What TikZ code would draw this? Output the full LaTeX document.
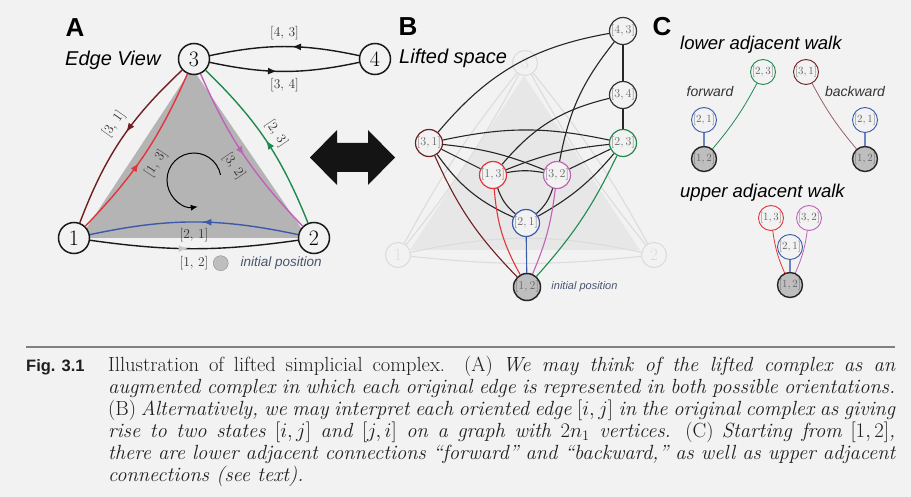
\documentclass[tikz,border=0pt]{standalone}
\usepackage{fontspec}
\setsansfont{Liberation Sans}
\usepackage{tikz}
\usetikzlibrary{positioning,arrows.meta,decorations.markings}

\definecolor{bgc}{HTML}{F2F2F2}
\definecolor{maroon}{HTML}{6E1F22}
\definecolor{redE}{HTML}{E2363C}
\definecolor{purp}{HTML}{C062B8}
\definecolor{grn}{HTML}{1E8A4E}
\definecolor{blu}{HTML}{3B5BAA}
\definecolor{trigray}{HTML}{B4B4B4}
\definecolor{initgray}{HTML}{BEBEBE}
\definecolor{postxt}{HTML}{4A5470}
\definecolor{faint}{HTML}{DCDCDC}
\definecolor{faintfill}{HTML}{E7E7E7}

\begin{document}
\begin{tikzpicture}[
  x=1pt, y=1pt,
  panel/.style={font=\sffamily\bfseries\fontsize{26}{26}\selectfont, inner sep=0pt},
  ptitle/.style={font=\sffamily\itshape\fontsize{20}{20}\selectfont, inner sep=0pt, anchor=west},
  vtx/.style={circle, draw=black!90, line width=1.5pt, fill=bgc, minimum size=31pt, inner sep=0pt, font=\fontsize{22}{22}\selectfont},
  fvtx/.style={circle, draw=faint, line width=1.1pt, minimum size=25pt, inner sep=0pt, text=faint, font=\fontsize{17}{17}\selectfont},
  elab/.style={font=\fontsize{13.5}{14}\selectfont, text=black!80, inner sep=1pt},
  edgeA/.style={line width=1.4pt},
  midarr/.style={postaction={decorate}, decoration={markings, mark=at position #1 with {\arrow{Latex[length=9pt,width=7pt]}}}},
  midarrg/.style={postaction={decorate}, decoration={markings, mark=at position #1 with {\arrow{Latex[length=9pt,width=7pt,color=black!22]}}}},
  lv/.style={circle, draw=#1, line width=1.2pt, fill=bgc, minimum size=27pt, inner sep=0pt, text=black!60, font=\fontsize{12}{12}\selectfont},
  bedge/.style={line width=1.1pt, black!85},
  cedge/.style={line width=1.1pt},
  fline/.style={line width=1.1pt, faint},
  cv/.style={circle, draw=#1, line width=0.9pt, fill=bgc, minimum size=25pt, inner sep=0pt, text=black!60, font=\fontsize{11}{11}\selectfont},
  cvo/.style={cv=black!85, fill=initgray, line width=1.4pt},
  cl/.style={line width=0.8pt},
  walklab/.style={font=\sffamily\itshape\fontsize{14}{14}\selectfont, text=black!80, inner sep=0pt},
  inittxt/.style={font=\sffamily\itshape\fontsize{13.5}{14}\selectfont, text=postxt, inner sep=0pt},
  captxt/.style={text width=787pt, align=justify, inner sep=0pt, font=\fontsize{20.5}{22}\selectfont, text=black!88},
  figlab/.style={font=\sffamily\bfseries\fontsize{16.5}{17}\selectfont, inner sep=0pt, text=black!88}]
\fill[bgc] (0,0) rectangle (911,-497);
\useasboundingbox (0,0) rectangle (911,-497);

% A: edge view
\fill[trigray] (192,-68) -- (80,-238) -- (308,-238) -- cycle;
\node[panel] (labA) at (75,-28) {A};
\node[ptitle] (tA) at (65,-60) {Edge View};
\node[vtx] (v3) at (194,-59) {3};
\node[vtx] (v4) at (375,-59) {4};
\node[vtx] (v1) at (74,-238) {1};
\node[vtx] (v2) at (314,-238) {2};
\draw[edgeA, maroon, midarr=0.45] (v3) to[bend right=13] node[elab, pos=0.45, sloped, above=6pt] {[3, 1]} (v1);
\draw[edgeA, redE, midarr=0.45] (v1) to[bend right=10] node[elab, pos=0.5, sloped, below=6pt] {[1, 3]} (v3);
\draw[edgeA, purp, midarr=0.5] (v3) to[bend right=10] node[elab, pos=0.52, sloped, below=6pt] {[3, 2]} (v2);
\draw[edgeA, grn, midarr=0.5] (v2) to[bend right=12] node[elab, pos=0.5, sloped, above=4pt] {[2, 3]} (v3);
\draw[edgeA, blu, midarr=0.46] (v2) to[bend right=12] node[elab, below=5pt] {[2, 1]} (v1);
\draw[edgeA, black!90, midarrg=0.47] (v1) to[bend right=8] node[elab, below=6pt] (l12) {[1, 2]} (v2);
\draw[edgeA, black!90, midarr=0.45] (v4) to[bend right=12] node[elab, above=5pt] {[4, 3]} (v3);
\draw[edgeA, black!90, midarr=0.45] (v3) to[bend right=12] node[elab, below=5pt] {[3, 4]} (v4);
\node[circle, draw=black!45, fill=initgray, minimum size=15pt, inner sep=0pt, right=3pt of l12] (dot) {};
\node[inittxt, right=12pt of dot] (initA) {initial position};
\draw[line width=1pt, -{Latex[length=7pt,width=6pt]}] (194,-180) ++(11:27) arc[start angle=11, end angle=278, radius=27];

% double arrow
\fill[black!92] (310,-157.5) -- (337,-130) -- (337,-143) -- (368,-143) -- (368,-130) -- (395,-157.5)
  -- (368,-185) -- (368,-172) -- (337,-172) -- (337,-185) -- cycle;

% B: lifted space
\fill[faintfill] (524,-76) -- (410,-250) -- (640,-250) -- cycle;
\node[panel] (labB) at (408,-27) {B};
\node[fvtx] (f3) at (525,-63) {3};
\node[fvtx] (f1) at (398,-255) {1};
\node[fvtx] (f2) at (654,-255) {2};
\draw[fline] (f3) to[bend right=5] (f1);
\draw[fline] (f3) to[bend left=5] (f1);
\draw[fline] (f3) to[bend right=5] (f2);
\draw[fline] (f3) to[bend left=5] (f2);
\draw[fline] (f1) to[bend left=12] (f2);
\draw[fline] (f1) to[bend right=6] (f2);
\node[ptitle] (tB) at (399,-58) {Lifted space};
\node[lv=black!80] (b43) at (623,-31) {$[4,3]$};
\node[lv=black!80] (b34) at (623,-95) {$[3,4]$};
\node[lv=grn] (b23) at (623,-143) {$[2,3]$};
\node[lv=maroon] (b31) at (429,-143) {$[3,1]$};
\node[lv=redE] (b13) at (493,-175) {$[1,3]$};
\node[lv=purp] (b32) at (557,-175) {$[3,2]$};
\node[lv=blu] (b21) at (526,-223) {$[2,1]$};
\node[lv=black!85, fill=initgray, line width=1.5pt] (b12) at (527,-287) {$[1,2]$};
\node[inittxt, font=\sffamily\itshape\fontsize{11}{11}\selectfont, right=10pt of b12] (initB) {initial position};
\draw[bedge] (b31) to[bend left=20] (b43);
\draw[bedge] (b32) to[bend left=14] (b43);
\draw[bedge] (b13) to[bend left=18] (b34);
\draw[bedge] (b43) -- (b34);
\draw[bedge] (b34) -- (b23);
\draw[bedge] (b31) to[bend left=12] (b23);
\draw[bedge] (b31) -- (b13);
\draw[bedge] (b31) to[bend left=8] (b32);
\draw[bedge] (b31) to[bend right=15] (b21);
\draw[bedge] (b13) to[bend left=8] (b23);
\draw[bedge] (b13) to[bend left=10] (b32);
\draw[bedge] (b13) to[bend right=15] (b21);
\draw[bedge] (b32) -- (b23);
\draw[bedge] (b32) to[bend left=15] (b21);
\draw[bedge] (b23) to[bend left=10] (b21);
\draw[cedge, maroon] (b31) to[bend right=10] (b12);
\draw[cedge, redE] (b13) to[bend right=12] (b12);
\draw[cedge, blu] (b21) -- (b12);
\draw[cedge, purp] (b32) to[bend left=8] (b12);
\draw[cedge, grn] (b23) to[bend left=8] (b12);

% C: walks
\node[panel] (labC) at (662,-27) {C};
\node[ptitle, font=\sffamily\itshape\fontsize{18.5}{19}\selectfont] (tC1) at (680,-45) {lower adjacent walk};
\node[cv=grn] (c23) at (763,-72) {$[2,3]$};
\node[cv=blu] (c21a) at (704,-120) {$[2,1]$};
\node[cvo] (c12a) at (704,-159) {$[1,2]$};
\node[walklab] (fwd) at (710,-92) {forward};
\draw[cl, grn] (c12a) to[bend right=6] (c23);
\draw[cl, blu!75, line width=1.4pt] (c21a) -- (c12a);
\node[cv=maroon] (c31) at (806,-72) {$[3,1]$};
\node[cv=blu] (c21b) at (865,-120) {$[2,1]$};
\node[cvo] (c12b) at (865,-159) {$[1,2]$};
\node[walklab] (bwd) at (855,-92) {backward};
\draw[cl, maroon!70] (c31) to[bend right=6] (c12b);
\draw[cl, blu!75, line width=1.4pt] (c21b) -- (c12b);
\node[ptitle, font=\sffamily\itshape\fontsize{18.5}{19}\selectfont] (tC2) at (680,-193) {upper adjacent walk};
\node[cv=redE] (c13) at (771,-218) {$[1,3]$};
\node[cv=purp] (c32) at (809,-218) {$[3,2]$};
\node[cvo] (c12c) at (790,-285) {$[1,2]$};
\draw[cl, redE] (c13) to[bend right=8] (c12c);
\draw[cl, purp] (c32) to[bend left=8] (c12c);
\node[cv=blu] (c21c) at (790,-247) {$[2,1]$};
\draw[cl, blu!75, line width=1.4pt] (c21c) -- (c12c);

% caption
\coordinate (rl) at (26,-347);
\coordinate (rr) at (895,-347);
\draw[line width=2.2pt, black!50] (rl) -- (rr);
\node[figlab, anchor=base west] (fig) at (26,-371) {Fig. 3.1};
\node[captxt, anchor=north west] (cap) at (108,-356) {Illustration of lifted simplicial complex. (A) \textit{We may think of the lifted complex as an\linebreak augmented complex in which each original edge is represented in both possible orientations.}\linebreak (B) \textit{Alternatively, we may interpret each oriented edge $[i,j]$ in the original complex as giving\linebreak rise to two states $[i,j]$ and $[j,i]$ on a graph with $2n_1$ vertices.} (C) \textit{Starting from} $[1,2]$\textit{,\linebreak there are lower adjacent connections ``forward'' and ``backward,'' as well as upper adjacent\linebreak connections (see text).}};
\end{tikzpicture}
\end{document}
